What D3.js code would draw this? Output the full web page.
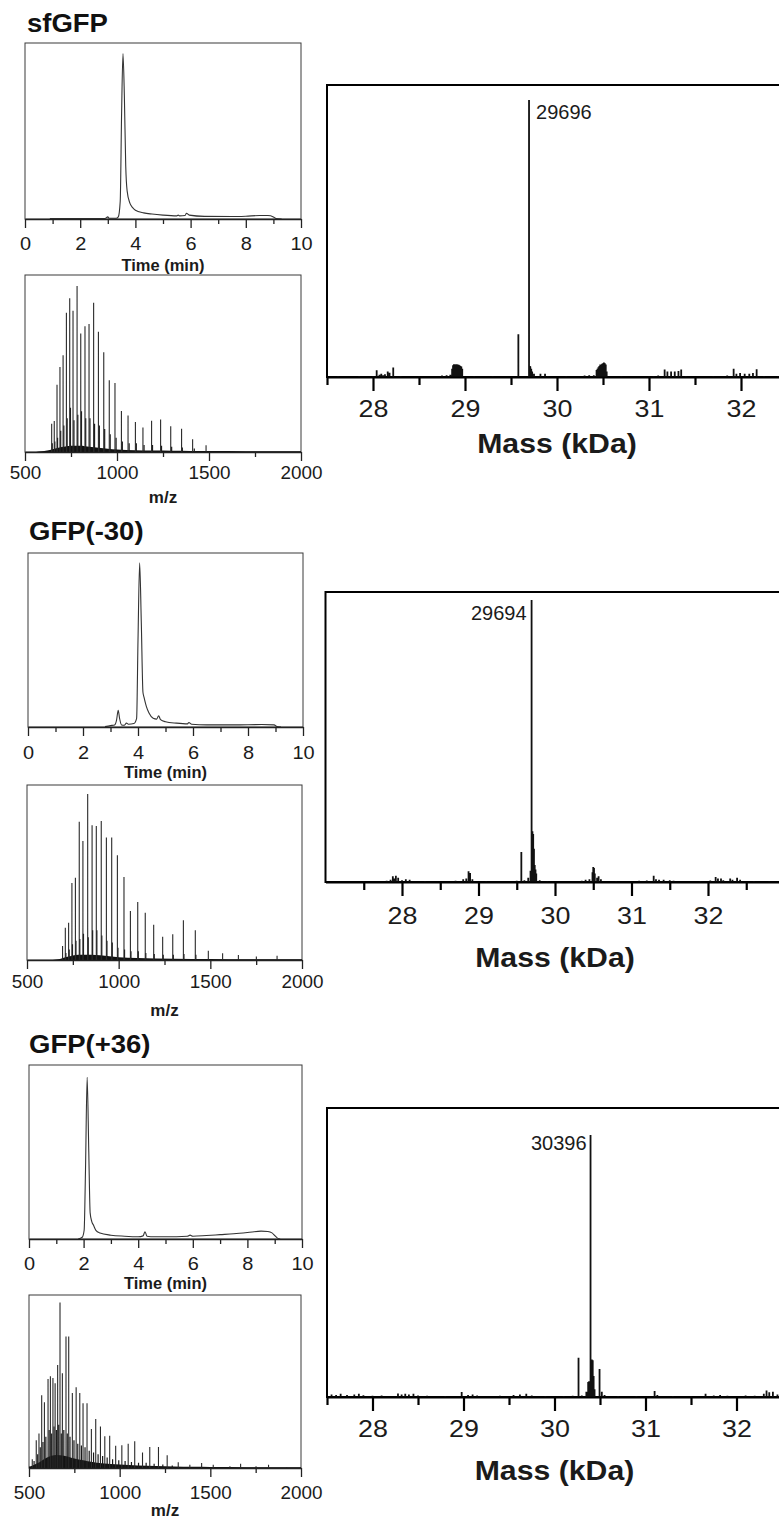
<!DOCTYPE html>
<html><head><meta charset="utf-8">
<script src="https://cdn.jsdelivr.net/npm/d3@7"></script>
<style>
html,body{margin:0;padding:0;background:#fff;overflow:hidden;}
svg{display:block;font-family:"Liberation Sans",Arial,sans-serif;}
</style></head><body>
<svg id="chart" width="779" height="1521"></svg>
<script>
// ---------------- DATA ----------------
const samples = ["sfGFP", "GFP(-30)", "GFP(+36)"];
const timeTicks = [0, 2, 4, 6, 8, 10];
const timeMinor = [1, 3, 5, 7, 9];
const mzTicks = [500, 1000, 1500, 2000];
const mzMinor = [750, 1250, 1750];
const massTicks = [28, 29, 30, 31, 32];
const massMinor = [27.5, 28.5, 29.5, 30.5, 31.5, 32.5];
const peakLabels = ["29696", "29694", "30396"];
const peakMasses = [29.696, 29.694, 30.396];

// chromatograms: [time (min), relative intensity]
const chromSf = [[0.9,0.002],[2.9,0.003],[3.0,0.012],[3.05,0.004],[3.3,0.004],[3.38,0.012],[3.45,0.1],[3.5,0.6],[3.55,0.94],[3.6,0.7],[3.65,0.3],[3.7,0.16],[3.8,0.09],[3.9,0.065],[4.0,0.05],[4.3,0.035],[4.6,0.028],[5.0,0.022],[5.5,0.018],[5.55,0.022],[5.6,0.018],[5.8,0.02],[5.85,0.033],[5.95,0.022],[6.5,0.015],[7.5,0.014],[8.0,0.016],[8.5,0.02],[8.8,0.02],[9.0,0.012],[9.1,0.002],[9.3,0.0]];
const chromNeg = [[2.8,0.002],[3.0,0.008],[3.15,0.012],[3.22,0.04],[3.28,0.096],[3.33,0.05],[3.4,0.012],[3.5,0.01],[3.58,0.022],[3.65,0.016],[3.85,0.02],[3.95,0.05],[4.0,0.5],[4.06,0.943],[4.12,0.6],[4.18,0.2],[4.22,0.17],[4.3,0.12],[4.4,0.08],[4.55,0.05],[4.68,0.045],[4.75,0.065],[4.82,0.042],[5.0,0.03],[5.4,0.022],[5.8,0.018],[5.85,0.026],[5.95,0.016],[6.5,0.012],[7.5,0.012],[8.5,0.014],[8.95,0.012],[9.05,0.003],[9.2,0.0]];
const chromPos = [[1.8,0.0],[1.95,0.01],[2.02,0.05],[2.07,0.4],[2.13,0.93],[2.19,0.5],[2.24,0.15],[2.3,0.1],[2.36,0.08],[2.45,0.05],[2.6,0.035],[3.0,0.022],[3.5,0.016],[4.0,0.013],[4.18,0.018],[4.25,0.042],[4.32,0.016],[4.6,0.013],[5.0,0.013],[5.8,0.016],[5.9,0.022],[6.0,0.016],[6.5,0.02],[7.0,0.025],[7.5,0.03],[8.0,0.037],[8.5,0.045],[8.75,0.043],[8.9,0.035],[9.0,0.02],[9.1,0.005],[9.2,0.0]];

// m/z spectra: main charge-state peaks [m/z, rel. intensity]
const mzSf = [[645,0.16],[659,0.175],[674,0.38],[690,0.48],[707,0.547],[725,0.787],[743,0.868],[761,0.798],[783,0.938],[803,0.67],[826,0.711],[848,0.723],[873,0.843],[899,0.679],[928,0.564],[958,0.406],[989,0.39],[1024,0.232],[1060,0.206],[1100,0.17],[1141,0.138],[1188,0.177],[1237,0.183],[1292,0.145],[1351,0.132],[1411,0.072],[1484,0.038]];
const mzSfMinor = [[648,0.05],[662,0.06],[677,0.08],[694,0.12],[711,0.15],[729,0.19],[747,0.25],[766,0.18],[787,0.21],[807,0.23],[830,0.19],[853,0.19],[878,0.16],[904,0.15],[933,0.13],[963,0.1],[995,0.08],[1029,0.06],[1066,0.05],[1105,0.05],[1147,0.04],[1193,0.04],[1242,0.035],[1297,0.03],[1355,0.025],[1420,0.02]];
const mzSfBase = [[560,0],[590,0.004],[620,0.008],[650,0.015],[700,0.028],[750,0.036],[800,0.036],[850,0.03],[900,0.024],[950,0.018],[1000,0.014],[1100,0.01],[1200,0.008],[1300,0.007],[1400,0.006],[1500,0.005],[1700,0.004],[2000,0.004]];

const mzNeg = [[694,0.08],[709,0.185],[727,0.213],[745,0.44],[764,0.47],[785,0.79],[805,0.68],[831,0.949],[855,0.77],[878,0.766],[905,0.794],[933,0.70],[962,0.70],[993,0.598],[1029,0.474],[1064,0.28],[1104,0.331],[1145,0.27],[1191,0.202],[1240,0.133],[1295,0.147],[1353,0.227],[1418,0.17],[1489,0.053],[1567,0.038],[1653,0.029],[1751,0.02],[1864,0.025]];
const mzNegMinor = [[712,0.04],[730,0.06],[748,0.09],[767,0.11],[788,0.12],[808,0.15],[834,0.13],[858,0.17],[881,0.17],[908,0.14],[936,0.11],[965,0.1],[996,0.07],[1032,0.06],[1067,0.05],[1107,0.05],[1148,0.04],[1194,0.035],[1243,0.03],[1298,0.03],[1356,0.035],[1421,0.03]];
const mzNegBase = [[640,0],[680,0.006],[720,0.018],[780,0.03],[850,0.03],[900,0.027],[950,0.021],[1000,0.016],[1100,0.012],[1200,0.009],[1400,0.006],[1600,0.005],[2000,0.004]];

const mzPos = [[518,0.05],[540,0.16],[555,0.2],[570,0.42],[585,0.38],[605,0.515],[618,0.53],[632,0.52],[644,0.49],[658,0.596],[671,0.956],[684,0.548],[704,0.76],[719,0.76],[739,0.433],[760,0.467],[780,0.433],[798,0.375],[820,0.375],[844,0.225],[868,0.283],[894,0.24],[918,0.183],[945,0.187],[978,0.129],[1012,0.131],[1047,0.14],[1083,0.154],[1126,0.09],[1166,0.121],[1214,0.121],[1262,0.073],[1323,0.033],[1387,0.019],[1452,0.029],[1516,0.019],[1608,0.01],[1667,0.025],[1752,0.01],[1821,0.019],[1921,0.006]];
const mzPosMinor = [[528,0.04],[548,0.08],[562,0.12],[577,0.15],[593,0.18],[611,0.22],[625,0.2],[638,0.24],[651,0.22],[664,0.25],[678,0.2],[692,0.22],[711,0.2],[726,0.18],[748,0.16],[769,0.14],[789,0.13],[809,0.12],[832,0.1],[856,0.09],[881,0.08],[906,0.07],[931,0.06],[961,0.05],[995,0.045],[1030,0.04],[1065,0.035],[1104,0.03],[1146,0.03],[1190,0.025],[1238,0.02],[1290,0.015]];
const mzPosBase = [[500,0.008],[520,0.015],[560,0.035],[600,0.06],[650,0.075],[700,0.07],[750,0.055],[800,0.045],[850,0.035],[900,0.028],[1000,0.02],[1100,0.015],[1200,0.012],[1300,0.009],[1400,0.007],[1500,0.006],[1700,0.005],[2000,0.004]];

// deconvoluted mass spectra [mass (kDa), rel. intensity]
const massSf = [[27.62,0.003],[27.85,0.004],[28.0,0.004],[28.04,0.024],[28.07,0.008],[28.09,0.012],[28.11,0.006],[28.13,0.01],[28.16,0.02],[28.18,0.015],[28.22,0.034],[28.3,0.004],[28.5,0.003],[28.75,0.005],[28.8,0.006],[28.84,0.008],[28.86,0.03],[28.87,0.042],[28.88,0.046],[28.89,0.046],[28.9,0.044],[28.91,0.046],[28.92,0.045],[28.93,0.044],[28.94,0.042],[28.95,0.04],[28.96,0.038],[28.97,0.03],[29.1,0.003],[29.3,0.003],[29.58,0.154],[29.696,1.0],[29.705,0.04],[29.71,0.038],[29.72,0.03],[29.73,0.02],[29.75,0.012],[29.82,0.012],[29.87,0.012],[29.9,0.004],[30.1,0.003],[30.3,0.005],[30.35,0.006],[30.4,0.006],[30.43,0.025],[30.44,0.03],[30.45,0.035],[30.46,0.04],[30.47,0.045],[30.48,0.044],[30.49,0.048],[30.5,0.05],[30.51,0.052],[30.52,0.05],[30.53,0.045],[30.54,0.02],[30.7,0.003],[31.0,0.003],[31.05,0.004],[31.1,0.005],[31.17,0.027],[31.2,0.02],[31.24,0.02],[31.28,0.02],[31.32,0.022],[31.35,0.027],[31.4,0.004],[31.7,0.003],[31.85,0.005],[31.92,0.03],[31.95,0.012],[31.99,0.014],[32.04,0.012],[32.09,0.012],[32.13,0.014],[32.17,0.028],[32.25,0.004],[32.4,0.003]];
const massNeg = [[27.5,0.003],[27.8,0.004],[27.85,0.008],[27.88,0.02],[27.9,0.012],[27.92,0.022],[27.95,0.015],[28.0,0.006],[28.05,0.01],[28.1,0.008],[28.3,0.003],[28.7,0.004],[28.8,0.01],[28.84,0.012],[28.87,0.038],[28.89,0.032],[28.92,0.01],[29.1,0.003],[29.5,0.004],[29.56,0.106],[29.6,0.006],[29.65,0.015],[29.68,0.04],[29.694,1.0],[29.705,0.18],[29.715,0.17],[29.725,0.118],[29.735,0.06],[29.745,0.044],[29.755,0.03],[29.8,0.006],[29.9,0.003],[30.35,0.004],[30.4,0.008],[30.45,0.01],[30.49,0.035],[30.5,0.053],[30.51,0.05],[30.52,0.03],[30.55,0.015],[30.57,0.02],[30.6,0.01],[30.8,0.003],[31.1,0.004],[31.2,0.005],[31.29,0.022],[31.32,0.01],[31.36,0.008],[31.42,0.008],[31.5,0.006],[31.55,0.004],[31.9,0.003],[32.03,0.005],[32.1,0.018],[32.13,0.012],[32.17,0.012],[32.2,0.006],[32.29,0.012],[32.32,0.008],[32.38,0.015],[32.42,0.008],[32.6,0.003],[32.8,0.003]];
const massPos = [[27.55,0.01],[27.6,0.008],[27.65,0.012],[27.72,0.008],[27.8,0.01],[27.85,0.012],[27.9,0.007],[28.0,0.005],[28.1,0.006],[28.28,0.013],[28.32,0.01],[28.36,0.012],[28.4,0.01],[28.45,0.012],[28.5,0.006],[28.6,0.005],[28.8,0.004],[28.98,0.019],[29.05,0.008],[29.1,0.01],[29.15,0.006],[29.4,0.005],[29.55,0.008],[29.62,0.01],[29.69,0.012],[29.75,0.006],[29.9,0.004],[30.1,0.004],[30.2,0.005],[30.264,0.15],[30.3,0.006],[30.35,0.02],[30.37,0.057],[30.38,0.06],[30.396,1.0],[30.41,0.143],[30.42,0.14],[30.43,0.08],[30.44,0.03],[30.495,0.107],[30.52,0.02],[30.55,0.008],[30.7,0.004],[30.9,0.004],[31.1,0.023],[31.13,0.008],[31.3,0.004],[31.5,0.004],[31.66,0.012],[31.75,0.006],[31.82,0.008],[31.9,0.005],[32.1,0.006],[32.2,0.005],[32.3,0.012],[32.33,0.025],[32.36,0.018],[32.4,0.02],[32.45,0.01]];

const chromData = [chromSf, chromNeg, chromPos];
const mzData = [mzSf, mzNeg, mzPos];
const mzMinorData = [mzSfMinor, mzNegMinor, mzPosMinor];
const mzBaseData = [mzSfBase, mzNegBase, mzPosBase];
const massData = [massSf, massNeg, massPos];

// ---------------- LAYOUT ----------------
const layout = [
  { title:[27,32],
    chrom:{l:25,t:43,r:301,b:219,tk:24,lab:46},
    mz:{l:25,t:275,r:301,b:452,tk:21,lab:45},
    mass:{l:327,t:85,b:377,dom:[27.5,32.5],w:460,ymax:1.054,tk:31,lab:66},
    ann:{dx:7,dy:12,anchor:"start"} },
  { title:[29,540],
    chrom:{l:28,t:553,r:303,b:727,tk:25,lab:45},
    mz:{l:27,t:785,r:302,b:960,tk:22,lab:50},
    mass:{l:325.5,t:592,b:882,dom:[27,33],w:459,ymax:1.028,tk:33,lab:75},
    ann:{dx:-5,dy:13,anchor:"end"} },
  { title:[29,1053],
    chrom:{l:29,t:1065,r:302,b:1239,tk:24,lab:44},
    mz:{l:29,t:1295,r:301,b:1468,tk:25,lab:42},
    mass:{l:327,t:1108,b:1397,dom:[27.5,32.5],w:455,ymax:1.103,tk:31,lab:73},
    ann:{dx:-4,dy:8,anchor:"end"} }
];

const svg = d3.select("#chart");
const TXT = "#1b1b1b";

function placeText(g, x, y, str, size, weight, anchor, k) {
  return g.append("text")
    .attr("transform", `translate(${x},${y}) scale(${k},1)`)
    .attr("text-anchor", anchor)
    .attr("dy", "0.36em")
    .style("font-size", size + "px")
    .style("font-weight", weight)
    .attr("fill", TXT)
    .text(str);
}

function drawAxis(g, scale, yPos, major, minor, majLen, minLen, width, color, fontSize, k, tkOff, fmt) {
  const ax = g.append("g").attr("transform", `translate(0,${yPos})`)
    .call(d3.axisBottom(scale).tickValues(major).tickSize(majLen).tickSizeOuter(0).tickFormat(fmt));
  ax.select(".domain").attr("stroke", color).attr("stroke-width", width);
  ax.selectAll(".tick line").attr("stroke", color).attr("stroke-width", width);
  ax.selectAll(".tick text")
    .attr("y", tkOff).attr("dy", "0.36em")
    .attr("transform", `scale(${k},1)`)
    .attr("fill", TXT)
    .style("font-size", fontSize + "px")
    .style("font-family", '"Liberation Sans", Arial, sans-serif');
  const mn = g.append("g").attr("transform", `translate(0,${yPos})`)
    .call(d3.axisBottom(scale).tickValues(minor).tickSize(minLen).tickSizeOuter(0).tickFormat(""));
  mn.select(".domain").remove();
  mn.selectAll(".tick line").attr("stroke", color).attr("stroke-width", width);
}

samples.forEach((name, i) => {
  const L = layout[i];
  const g = svg.append("g");

  // title
  g.append("text")
    .attr("transform", `translate(${L.title[0]},${L.title[1]}) scale(1.1,1)`)
    .style("font-size", "25px").style("font-weight", "bold").attr("fill", "#111")
    .text(name);

  // ---- chromatogram ----
  const C = L.chrom;
  const xc = d3.scaleLinear().domain([0, 10]).range([C.l, C.r]);
  const yc = d3.scaleLinear().domain([0, 1]).range([C.b, C.t]);
  g.append("rect").attr("x", C.l).attr("y", C.t).attr("width", C.r - C.l).attr("height", C.b - C.t)
    .attr("fill", "none").attr("stroke", "#3a3a3a").attr("stroke-width", 1);
  g.append("path").datum(chromData[i])
    .attr("d", d3.line().x(d => xc(d[0])).y(d => yc(d[1])).curve(d3.curveMonotoneX))
    .attr("fill", "none").attr("stroke", "#333").attr("stroke-width", 1.1);
  drawAxis(g, xc, C.b, timeTicks, timeMinor, 9, 5, 1.3, "#222", 19, 1.05, C.tk, d3.format("d"));
  placeText(g, (C.l + C.r) / 2, C.b + C.lab, "Time (min)", 17, "bold", "middle", 0.97);

  // ---- m/z spectrum ----
  const M = L.mz;
  const xm = d3.scaleLinear().domain([500, 2000]).range([M.l, M.r]);
  const ym = d3.scaleLinear().domain([0, 1]).range([M.b, M.t]);
  g.append("rect").attr("x", M.l).attr("y", M.t).attr("width", M.r - M.l).attr("height", M.b - M.t)
    .attr("fill", "none").attr("stroke", "#3a3a3a").attr("stroke-width", 1);
  g.append("path").datum(mzBaseData[i])
    .attr("d", d3.area().x(d => xm(d[0])).y0(ym(0)).y1(d => ym(d[1])).curve(d3.curveMonotoneX))
    .attr("fill", "#111");
  g.append("path")
    .attr("d", mzMinorData[i].map(d => `M${xm(d[0])},${ym(0)}V${ym(d[1])}`).join(""))
    .attr("stroke", "#1a1a1a").attr("stroke-width", 1.2).attr("fill", "none");
  g.append("path")
    .attr("d", mzData[i].map(d => `M${xm(d[0])},${ym(0)}V${ym(d[1])}`).join(""))
    .attr("stroke", "#2a2a2a").attr("stroke-width", 1.1).attr("fill", "none");
  drawAxis(g, xm, M.b, mzTicks, mzMinor, 9, 5, 1.3, "#222", 18, 1.05, M.tk, d3.format("d"));
  placeText(g, (M.l + M.r) / 2, M.b + M.lab, "m/z", 17, "bold", "middle", 1.0);

  // ---- deconvoluted mass ----
  const S = L.mass;
  const xs = d3.scaleLinear().domain(S.dom).range([S.l, S.l + S.w]);
  const ys = d3.scaleLinear().domain([0, S.ymax]).range([S.b, S.t]);
  g.append("rect").attr("x", S.l).attr("y", S.t).attr("width", S.w).attr("height", S.b - S.t)
    .attr("fill", "none").attr("stroke", "#000").attr("stroke-width", 2);
  g.append("path")
    .attr("d", massData[i].map(d => `M${xs(d[0])},${ys(0)}V${ys(d[1])}`).join(""))
    .attr("stroke", "#111").attr("stroke-width", 1.8).attr("fill", "none");
  drawAxis(g, xs, S.b, massTicks, massMinor, 14, 8, 2.2, "#000", 24, 1.12, S.tk, d3.format("d"));
  placeText(g, xs((S.dom[0] + S.dom[1]) / 2), S.b + S.lab, "Mass (kDa)", 27, "bold", "middle", 1.12);

  // peak annotation
  const A = L.ann;
  const pk = massData[i].find(d => d[0] === peakMasses[i]);
  placeText(g, xs(peakMasses[i]) + A.dx, ys(pk[1]) + A.dy, peakLabels[i], 20, "normal", A.anchor, 1.0);
});
</script>
</body></html>
